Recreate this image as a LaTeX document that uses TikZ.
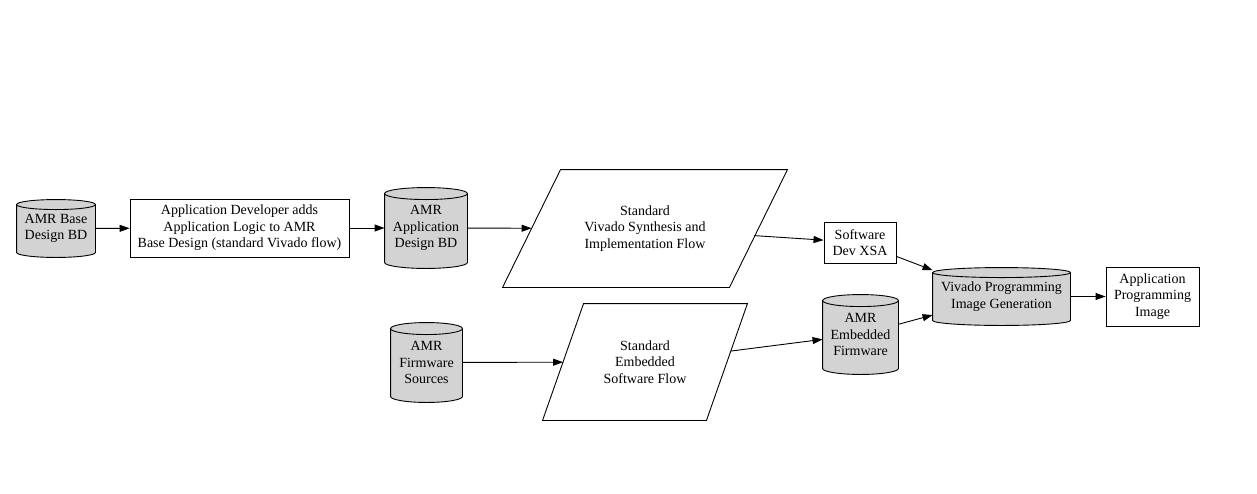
\documentclass[tikz,border=0pt]{standalone}
\usepackage{fontspec}
\setmainfont{Liberation Serif}
\usetikzlibrary{shapes.geometric,arrows.meta,calc,backgrounds}
\definecolor{cylgray}{RGB}{211,211,211}
\tikzset{
  base/.style={font=\fontsize{14}{16.5}\selectfont, align=center, inner sep=0pt, line width=0.9pt},
  boxnode/.style={base, draw, rectangle, fill=white},
  cylnode/.style={base, rectangle},
  paranode/.style={base, rectangle},
  shapepath/.style={draw, line width=0.9pt, line join=miter},
  conn/.style={line width=0.9pt, -{Triangle[length=10pt,width=7pt]}}
}
\newcommand\drawcyl[2]{%
  \begin{pgfonlayer}{background}
  \path let \p1=(#1.north west), \p2=(#1.south east), \n1={(\x2-\x1)/2} in
    [shapepath, fill=cylgray] (\x1,{\y1-#2}) -- (\x1,{\y2+#2})
      arc[start angle=180,end angle=360,x radius=\n1,y radius=#2]
      -- (\x2,{\y1-#2})
      arc[start angle=0,end angle=180,x radius=\n1,y radius=#2] -- cycle;
  \path let \p1=(#1.north west), \p2=(#1.south east), \n1={(\x2-\x1)/2} in
    [shapepath] (\x1,{\y1-#2})
      arc[start angle=180,end angle=360,x radius=\n1,y radius=#2];
  \end{pgfonlayer}}
\newcommand\drawpara[2]{%
  \begin{pgfonlayer}{background}
  \path[shapepath, fill=white] ([xshift=#2]#1.north west) -- ([xshift=#2]#1.north east)
     -- ([xshift=-#2]#1.south east) -- ([xshift=-#2]#1.south west) -- cycle;
  \end{pgfonlayer}}
\begin{document}
\begin{tikzpicture}[x=1pt,y=-1pt]
\begin{pgfonlayer}{background}
\fill[white] (0,0) rectangle (1257,493);
\end{pgfonlayer}
\useasboundingbox (0,0) rectangle (1257,493);

\node[cylnode, minimum width=78pt, minimum height=57pt] (basebd) at (56,228.5) {AMR Base\\Design BD};
\drawcyl{basebd}{5pt}
\node[boxnode, minimum width=219pt, minimum height=58pt] (dev) at (239.5,228) {Application Developer adds\\Application Logic to AMR\\Base Design (standard Vivado flow)};
\node[cylnode, minimum width=82pt, minimum height=80pt] (appbd) at (426,228) {AMR\\Application\\Design BD};
\drawcyl{appbd}{6pt}
\node[paranode, minimum width=226pt, minimum height=117pt] (synth) at (645,228.5) {Standard\\Vivado Synthesis and\\Implementation Flow};
\drawpara{synth}{29pt}
\node[cylnode, minimum width=71pt, minimum height=79pt] (fwsrc) at (426.5,362.5) {AMR\\Firmware\\Sources};
\drawcyl{fwsrc}{6pt}
\node[paranode, minimum width=163pt, minimum height=116pt] (swflow) at (645,362) {Standard\\Embedded\\Software Flow};
\drawpara{swflow}{20.5pt}
\node[boxnode, minimum width=72pt, minimum height=41pt] (xsa) at (860,242.5) {Software\\Dev XSA};
\node[cylnode, minimum width=137pt, minimum height=57pt] (vivado) at (1001.5,296.5) {Vivado Programming\\Image Generation};
\drawcyl{vivado}{5pt}
\node[cylnode, minimum width=75pt, minimum height=79pt] (embfw) at (860.5,334.5) {AMR\\Embedded\\Firmware};
\drawcyl{embfw}{6pt}
\node[boxnode, minimum width=93pt, minimum height=59pt] (apimg) at (1152.5,296.5) {Application\\Programming\\Image};

\draw[conn] (basebd) -- (dev);
\draw[conn] (dev) -- (appbd);
\draw[conn] (appbd) -- (synth);
\draw[conn, shorten <=-4pt] (synth) -- (xsa);
\draw[conn] (xsa) -- (vivado);
\draw[conn] (fwsrc) -- (swflow);
\draw[conn, shorten <=4pt] (swflow) -- (embfw);
\draw[conn] (embfw) -- (vivado);
\draw[conn] (vivado) -- (apimg);
\end{tikzpicture}
\end{document}
